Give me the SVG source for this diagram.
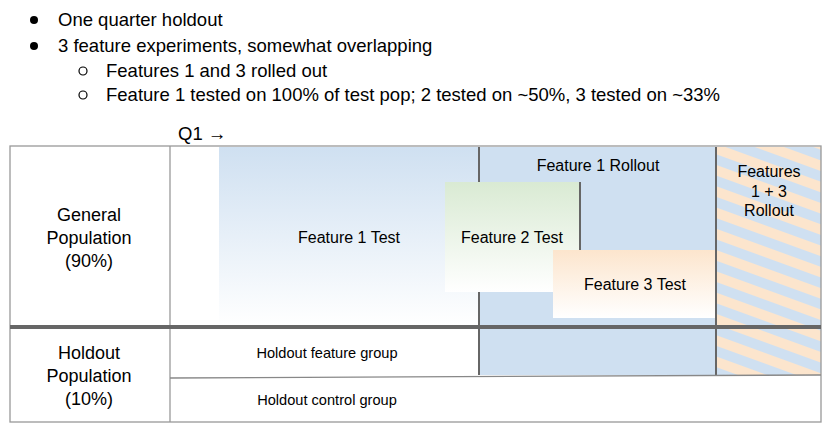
<svg xmlns="http://www.w3.org/2000/svg" width="838" height="440" viewBox="0 0 838 440">
<style>
text{font-family:"Liberation Sans",Arial,sans-serif;fill:#000}
.b{font-size:18.5px}.p{font-size:18px}.m{font-size:16px}.s{font-size:14.6px}
.g{stroke:#999;stroke-width:1.3;fill:none}
.v{stroke:#666;stroke-width:2}
</style>
<defs>
<linearGradient id="gb" x1="0" y1="0" x2="0" y2="1"><stop offset="0" stop-color="#cfe0f1"/><stop offset="1" stop-color="#fff"/></linearGradient>
<linearGradient id="gg" x1="0" y1="0" x2="0" y2="1"><stop offset="0" stop-color="#d9ead3"/><stop offset="1" stop-color="#fff"/></linearGradient>
<linearGradient id="go" x1="0" y1="0" x2="0" y2="1"><stop offset="0" stop-color="#fce5cd"/><stop offset="1" stop-color="#fff"/></linearGradient>
<pattern id="hatch" width="20" height="20" patternUnits="userSpaceOnUse" patternTransform="rotate(-70)">
<rect width="20" height="20" fill="#cfe0f1"/><rect width="10" height="20" fill="#fce5cd"/></pattern>
</defs>
<g id="bullets">
<circle cx="34" cy="20" r="4"/><text class="b" x="58" y="26">One quarter holdout</text>
<circle cx="34" cy="46" r="4"/><text class="b" x="58" y="52">3 feature experiments, somewhat overlapping</text>
<circle cx="83" cy="71" r="4" fill="none" stroke="#000" stroke-width="1.2"/><text class="b" x="106" y="77">Features 1 and 3 rolled out</text>
<circle cx="83" cy="95" r="4" fill="none" stroke="#000" stroke-width="1.2"/><text class="b" x="106" y="101">Feature 1 tested on 100% of test pop; 2 tested on ~50%, 3 tested on ~33%</text>
</g>
<text class="b" x="178" y="140">Q1 →</text>
<g id="feature1test"><rect x="219" y="147" width="260" height="179" fill="url(#gb)"/><text class="m" x="349" y="243" text-anchor="middle">Feature 1 Test</text></g>
<g id="rollout1"><rect x="479" y="147" width="237" height="228" fill="#cfe0f1"/><text class="m" x="598" y="171" text-anchor="middle">Feature 1 Rollout</text></g>
<g id="rollout13"><rect x="716" y="147" width="105" height="228" fill="url(#hatch)"/>
<text class="m" text-anchor="middle"><tspan x="769" y="177">Features</tspan><tspan x="769" y="197">1 + 3</tspan><tspan x="769" y="216">Rollout</tspan></text></g>
<g id="feature2test"><rect x="445" y="182" width="135" height="110" fill="url(#gg)"/><text class="m" x="512" y="243" text-anchor="middle">Feature 2 Test</text></g>
<g id="feature3test"><rect x="553" y="250" width="162" height="68" fill="url(#go)"/><text class="m" x="635" y="290" text-anchor="middle">Feature 3 Test</text></g>
<g id="connectors">
<line class="v" x1="479" y1="147" x2="479" y2="182"/>
<line class="v" x1="479" y1="292" x2="479" y2="375"/>
<line class="v" x1="580" y1="182" x2="580" y2="250"/>
<line class="v" x1="716" y1="147" x2="716" y2="375"/>
<rect class="g" x="10" y="146" width="811" height="276"/>
<line class="g" x1="170" y1="146" x2="170" y2="422"/>
<line x1="10" y1="327" x2="821" y2="327" stroke="#666" stroke-width="4"/>
<line x1="170" y1="378" x2="821" y2="375" stroke="#888" stroke-width="1.3"/>
</g>
<g id="general"><text class="p" text-anchor="middle"><tspan x="89" y="221">General</tspan><tspan x="89" y="244">Population</tspan><tspan x="89" y="267">(90%)</tspan></text></g>
<g id="holdout"><text class="p" text-anchor="middle"><tspan x="89" y="359">Holdout</tspan><tspan x="89" y="382">Population</tspan><tspan x="89" y="405">(10%)</tspan></text></g>
<g id="hfg"><text class="s" x="327" y="358" text-anchor="middle">Holdout feature group</text></g>
<g id="hcg"><text class="s" x="327" y="405" text-anchor="middle">Holdout control group</text></g>
</svg>
